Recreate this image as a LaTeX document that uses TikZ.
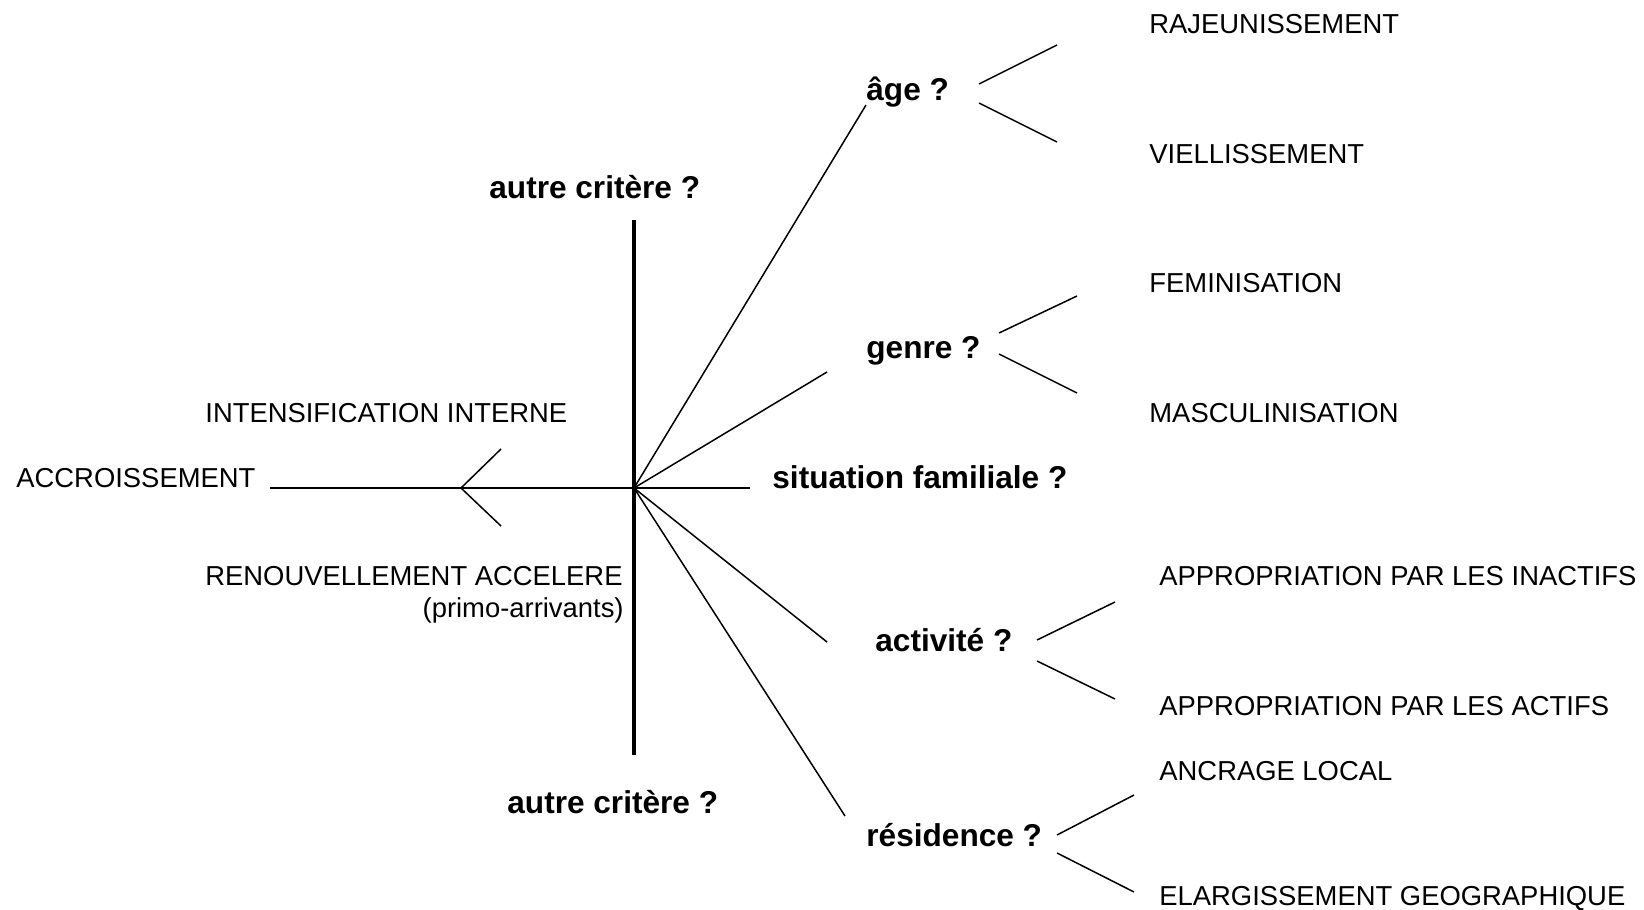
\documentclass[tikz,border=0pt]{standalone}
\usepackage{fontspec}
\setmainfont{Liberation Sans}
\usetikzlibrary{positioning}

\tikzset{
  leaf/.style={anchor=base west, inner sep=0pt, font=\fontsize{13.7}{16}\selectfont},
  crit/.style={anchor=base west, inner sep=0pt, font=\fontsize{15.8}{18}\selectfont\bfseries},
  branch/.style={line width=0.75pt},
  axis/.style={line width=1.6pt},
}

\begin{document}
\begin{tikzpicture}[x=0.5pt,y=-0.5pt]
\useasboundingbox (0,0) rectangle (1644,910);

% centre and axis
\coordinate (c) at (634,488);
\coordinate (vt) at (634,220);
\coordinate (vb) at (634,755);
\draw[axis] (vt) -- (vb);

\node[crit] (autreh) at (489,198) {autre critère ?};
\node[crit] (autreb) at (507,813) {autre critère ?};

% left side
\node[leaf] (acc) at (16,487) {ACCROISSEMENT};
\node[leaf] (inten) at (205,422) {INTENSIFICATION INTERNE};
\node[leaf] (renouv) at (205,585) {RENOUVELLEMENT ACCELERE};
\node[leaf, anchor=base east] (primo) at (624,617) {(primo-arrivants)};

\coordinate (hl) at (270,488);
\coordinate (tip) at (461,488);
\coordinate (tiph) at (501,449);
\coordinate (tipb) at (501,526);
\draw[branch] (c) -- (hl);
\draw[branch] (tiph) -- (tip) -- (tipb);

% criteria
\node[crit] (age) at (866,100) {âge ?};
\node[crit] (genre) at (866,358) {genre ?};
\node[crit] (sitfam) at (772,488) {situation familiale ?};
\node[crit] (activ) at (875,651) {activité ?};
\node[crit] (resid) at (866,846) {résidence ?};

\coordinate (age0) at (866,105);
\coordinate (genre0) at (827,372);
\coordinate (sitfam0) at (750,488);
\coordinate (activ0) at (827,642);
\coordinate (resid0) at (845,816);
\foreach \s in {age0,genre0,sitfam0,activ0,resid0}
  \draw[branch] (c) -- (\s);

% leaves
\node[leaf] (raj) at (1149,33) {RAJEUNISSEMENT};
\node[leaf] (vieil) at (1149,163) {VIELLISSEMENT};
\node[leaf] (fem) at (1149,292) {FEMINISATION};
\node[leaf] (masc) at (1149,422) {MASCULINISATION};
\node[leaf] (inact) at (1159,585) {APPROPRIATION PAR LES INACTIFS};
\node[leaf] (act) at (1159,715) {APPROPRIATION PAR LES ACTIFS};
\node[leaf] (ancr) at (1159,780) {ANCRAGE LOCAL};
\node[leaf] (elarg) at (1159,905) {ELARGISSEMENT GEOGRAPHIQUE};

% forks
\coordinate (age1) at (979,84);   \coordinate (age2) at (1057,45);
\coordinate (age3) at (979,103);  \coordinate (age4) at (1057,142);
\coordinate (genre1) at (999,333);  \coordinate (genre2) at (1077,296);
\coordinate (genre3) at (999,354);  \coordinate (genre4) at (1077,393);
\coordinate (activ1) at (1037,640); \coordinate (activ2) at (1115,602);
\coordinate (activ3) at (1037,661); \coordinate (activ4) at (1115,699);
\coordinate (resid1) at (1057,835); \coordinate (resid2) at (1134,795);
\coordinate (resid3) at (1057,853); \coordinate (resid4) at (1134,892);
\foreach \f in {age,genre,activ,resid} {
  \draw[branch] (\f1) -- (\f2);
  \draw[branch] (\f3) -- (\f4);
}

\end{tikzpicture}
\end{document}
